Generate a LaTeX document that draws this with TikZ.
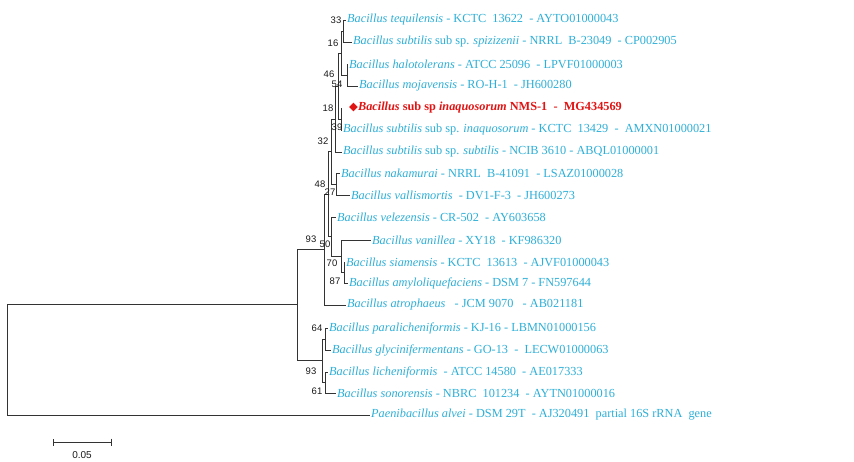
\documentclass[tikz,border=0pt]{standalone}
\usepackage{fontspec}
\setmainfont{Liberation Serif}
\newfontfamily\numfont{Liberation Sans}
\newfontfamily\symfont{DejaVu Sans}
\usetikzlibrary{arrows.meta}
\definecolor{taxon}{RGB}{45,175,215}
\definecolor{query}{RGB}{225,20,20}
\begin{document}
\begin{tikzpicture}[x=1pt,y=-1pt,
    leaf/.style={anchor=west, inner sep=1pt, text=taxon,
        font=\fontsize{12.3}{14}\selectfont},
    boot/.style={inner sep=0pt, text=black!90,
        font=\numfont\fontsize{9.5}{10}\selectfont},
    branch/.style={draw=black!80, line width=0.7pt}]

    \useasboundingbox (0,0) rectangle (854,462);

    % leaves
    \node[leaf] (teq) at (346,20) {\textit{Bacillus tequilensis} - KCTC~ 13622~ - AYTO01000043};
    \node[leaf] (spiz) at (352,42) {\textit{Bacillus subtilis} sub sp. \textit{spizizenii} - NRRL~ B-23049~ - CP002905};
    \node[leaf] (halo) at (348,64) {\textit{Bacillus halotolerans} - ATCC 25096~ - LPVF01000003};
    \node[leaf] (moja) at (358,86) {\textit{Bacillus mojavensis} - RO-H-1~ - JH600280};
    \node[leaf, inner xsep=8pt, text=query, font=\fontsize{12.3}{14}\selectfont\bfseries] (nms) at (341,108)
        {{\symfont\fontsize{11.5}{10}\selectfont ◆}\textit{Bacillus} sub sp \textit{inaquosorum} NMS-1~ - ~MG434569};
    \node[leaf] (inaq) at (342,130) {\textit{Bacillus subtilis} sub sp. \textit{inaquosorum} - KCTC~ 13429~ - ~AMXN01000021};
    \node[leaf] (subs) at (342,152) {\textit{Bacillus subtilis} sub sp. \textit{subtilis} - NCIB 3610 - ABQL01000001};
    \node[leaf] (naka) at (340,173) {\textit{Bacillus nakamurai} - NRRL~ B-41091~ - LSAZ01000028};
    \node[leaf] (vall) at (350,195) {\textit{Bacillus vallismortis}~ - DV1-F-3~ - JH600273};
    \node[leaf] (vele) at (336,217) {\textit{Bacillus velezensis} - CR-502~ - AY603658};
    \node[leaf] (vani) at (371,240) {\textit{Bacillus vanillea} - XY18~ - KF986320};
    \node[leaf] (siam) at (345,262) {\textit{Bacillus siamensis} - KCTC~ 13613~ - AJVF01000043};
    \node[leaf] (amyl) at (348,283) {\textit{Bacillus amyloliquefaciens} - DSM 7 - FN597644};
    \node[leaf] (atro) at (346,305) {\textit{Bacillus atrophaeus}~~ - JCM 9070~~ - AB021181};
    \node[leaf] (para) at (328,328) {\textit{Bacillus paralicheniformis} - KJ-16 - LBMN01000156};
    \node[leaf] (glyc) at (331,350) {\textit{Bacillus glycinifermentans} - GO-13~ - ~LECW01000063};
    \node[leaf] (lich) at (328,372) {\textit{Bacillus licheniformis}~ - ATCC 14580~ - AE017333};
    \node[leaf] (sono) at (336,393) {\textit{Bacillus sonorensis} - NBRC~ 101234~ - AYTN01000016};
    \node[leaf] (paen) at (370,415) {\textit{Paenibacillus alvei} - DSM 29T~ - AJ320491~ partial 16S rRNA~ gene};

    % internal nodes
    \coordinate (N1) at (343,31);
    \coordinate (M) at (347,75);
    \coordinate (N2) at (341,53);
    \coordinate (N5) at (341,119);
    \coordinate (N3) at (338,86);
    \coordinate (N4) at (335,119);
    \coordinate (G) at (336,184);
    \coordinate (C) at (331,151.5);
    \coordinate (F) at (344,272.5);
    \coordinate (E) at (341,256);
    \coordinate (D) at (331,236.5);
    \coordinate (B) at (328,194);
    \coordinate (S) at (324,249.5);
    \coordinate (PG) at (325,339);
    \coordinate (LS) at (325,382.5);
    \coordinate (L) at (322,360.5);
    \coordinate (I) at (297,304);
    \coordinate (R) at (7,360);

    % branches
    \draw[branch] (N1) |- (teq.west);  \draw[branch] (N1) |- (spiz.west);
    \draw[branch] (M) |- (halo.west);  \draw[branch] (M) |- (moja.west);
    \draw[branch] (N2) |- (N1);        \draw[branch] (N2) |- (M);
    \draw[branch] (N5) |- (nms.west);  \draw[branch] (N5) |- (inaq.west);
    \draw[branch] (N3) |- (N2);        \draw[branch] (N3) |- (N5);
    \draw[branch] (N4) |- (N3);        \draw[branch] (N4) |- (subs.west);
    \draw[branch] (G) |- (naka.west);  \draw[branch] (G) |- (vall.west);
    \draw[branch] (C) |- (N4);         \draw[branch] (C) |- (G);
    \draw[branch] (F) |- (siam.west);  \draw[branch] (F) |- (amyl.west);
    \draw[branch] (E) |- (vani.west);  \draw[branch] (E) |- (F);
    \draw[branch] (D) |- (vele.west);  \draw[branch] (D) |- (E);
    \draw[branch] (B) |- (C);          \draw[branch] (B) |- (D);
    \draw[branch] (S) |- (B);          \draw[branch] (S) |- (atro.west);
    \draw[branch] (PG) |- (para.west); \draw[branch] (PG) |- (glyc.west);
    \draw[branch] (LS) |- (lich.west); \draw[branch] (LS) |- (sono.west);
    \draw[branch] (L) |- (PG);         \draw[branch] (L) |- (LS);
    \draw[branch] (I) |- (S);          \draw[branch] (I) |- (L);
    \draw[branch] (R) |- (I);          \draw[branch] (R) |- (paen.west);

    % bootstrap values
    \node[boot] (b33) at (336,20) {33};
    \node[boot] (b16) at (333,43) {16};
    \node[boot] (b46) at (329,74) {46};
    \node[boot] (b54) at (337,84) {54};
    \node[boot] (b18) at (328,108) {18};
    \node[boot] (b39) at (337,127) {39};
    \node[boot] (b32) at (323,141) {32};
    \node[boot] (b48) at (320,184) {48};
    \node[boot] (b27) at (330,192) {27};
    \node[boot] (b93a) at (311,239) {93};
    \node[boot] (b50) at (325,244) {50};
    \node[boot] (b70) at (332,263) {70};
    \node[boot] (b87) at (335,281) {87};
    \node[boot] (b64) at (317,328) {64};
    \node[boot] (b93b) at (311,371) {93};
    \node[boot] (b61) at (317,391) {61};

    % scale bar
    \coordinate (sbl) at (53,442);
    \coordinate (sbr) at (112,442);
    \draw[branch, {Bar[width=7pt]}-{Bar[width=7pt]}] (sbl) -- (sbr);
    \node[boot, font=\numfont\fontsize{10}{10}\selectfont] (sbt) at (82,455) {0.05};
\end{tikzpicture}
\end{document}
